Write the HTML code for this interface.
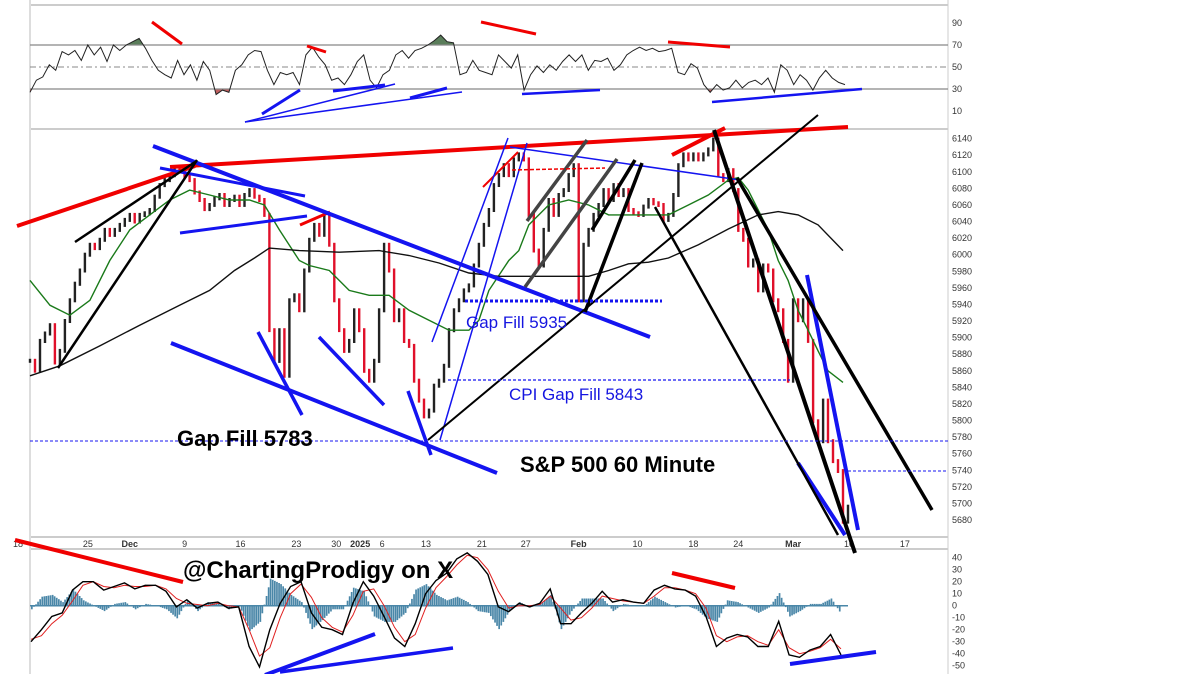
<!DOCTYPE html>
<html><head><meta charset="utf-8">
<style>
html,body{margin:0;padding:0;background:#fff;}
svg{display:block;font-family:"Liberation Sans",Arial,sans-serif;}
</style></head>
<body>
<svg id="chart" width="1200" height="674" viewBox="0 0 1200 674" xmlns="http://www.w3.org/2000/svg">
<g id="frame">
<line x1="30" y1="5" x2="948" y2="5" stroke="#ccc" stroke-width="2"/>
<line x1="30" y1="129" x2="948" y2="129" stroke="#ccc" stroke-width="2"/>
<line x1="30" y1="537" x2="948" y2="537" stroke="#ccc" stroke-width="2"/>
<line x1="30" y1="549" x2="948" y2="549" stroke="#ccc" stroke-width="2"/>
<line x1="30" y1="0" x2="30" y2="674" stroke="#ddd" stroke-width="2"/>
<line x1="948" y1="0" x2="948" y2="674" stroke="#ccc" stroke-width="1"/>
</g>
<g id="rsi"></g>
<g id="price"></g>
<g id="macd"></g>
<g id="axes"></g>
<g id="ann"></g>
<text x="466" y="328" font-size="17" fill="#1515e0">Gap Fill 5935</text>
<text x="509" y="400" font-size="17" fill="#1515e0">CPI Gap Fill 5843</text>
<text x="177" y="446" font-size="22" font-weight="bold" fill="#000">Gap Fill 5783</text>
<text x="520" y="472" font-size="22" font-weight="bold" fill="#000">S&amp;P 500 60 Minute</text>
<text x="183" y="578" font-size="24" font-weight="bold" fill="#000">@ChartingProdigy on X</text>
</svg>
<script>
const closes=[5872,5860,5896,5905,5915,5870,5884,5920,5945,5965,5981,6000,6012,6008,6018,6030,6024,6030,6036,6042,6048,6040,6048,6050,6054,6070,6084,6090,6096,6105,6102,6095,6090,6075,6066,6055,6060,6068,6072,6060,6066,6070,6060,6072,6078,6070,6066,
6048,
5909,5872,5909,5854,5945,5951,5933,5981,6018,6036,6024,6048,6012,5945,5909,5884,5896,5933,5909,5860,5848,5872,5933,6012,5981,5921,5933,5896,5890,5848,5824,5805,5812,5842,5848,5866,5909,5933,5945,5957,5963,5987,6012,6036,6054,6084,6096,6108,6096,6115,6121,6115,6048,6005,5987,6030,6066,6048,6072,6078,6096,6108,5945,6012,6030,6048,6060,6078,6066,6084,6072,6078,
6054,6050,6048,6058,6066,6062,6060,
6042,6048,6072,6108,6121,6115,6121,6115,6121,6127,6139,6096,6090,6102,6078,6030,6018,5987,5993,5957,5987,5981,5945,5933,5896,5848,5945,5921,5945,5896,5799,5775,5824,5775,5751,5739,5678,5696];
const ma50Idx=[0,4,8,12,16,20,24,28,32,36,40,44,47,50,54,56,60,64,68,72,76,80,84,88,90,92,94,96,98,100,104,108,112,116,120,124,128,132,136,140,142,144,146,148,150,152,154,156,158,160,163];
const ma50=[5969,5939,5927,5945,5993,6030,6048,6066,6078,6072,6066,6066,6060,6030,5993,5987,5981,5957,5951,5951,5933,5921,5909,5909,5921,5957,5975,5993,6005,6036,6060,6066,6060,6048,6048,6048,6048,6060,6072,6090,6093,6078,6054,6030,5993,5969,5933,5909,5884,5860,5846];
const ma200Idx=[0,6,14,22,30,36,41,45,48,54,62,70,76,82,88,94,100,106,112,116,120,124,128,134,140,146,150,154,158,163];
const ma200=[5854,5866,5890,5915,5939,5957,5981,5996,6008,6005,6003,6005,5999,5990,5978,5974,5974,5974,5974,5981,5989,5991,5996,6012,6031,6048,6052,6048,6036,6005];
const rsi=[27,38,41,52,47,64,61,65,56,70,61,68,55,70,65,70,73,76,67,56,47,43,40,56,43,52,38,55,47,25,29,27,47,52,61,65,64,47,34,45,43,45,34,61,68,59,52,38,40,34,43,55,61,38,31,43,47,61,65,58,65,67,70,74,79,73,72,43,45,56,47,45,43,61,55,49,61,29,43,51,45,52,47,55,61,55,61,47,56,55,58,47,52,61,65,68,65,67,64,65,67,45,43,53,49,34,27,34,29,31,38,31,36,38,34,40,27,52,47,34,43,38,29,40,47,40,36,34];
const rsiTicks=[90,70,50,30,10];
const macdLine=[-30,-20,-9,-6,13,20,20,13,16,19,14,17,17,12,-1,5,-2,2,3,-2,-1,-34,-51,-20,2,16,20,-6,-18,-20,-24,2,20,8,-9,-27,-34,-15,10,21,27,39,44,37,26,-1,-5,2,-1,2,14,-15,-15,-6,2,12,3,5,3,2,13,17,14,13,8,-9,-34,-27,-24,-26,-34,-34,-13,-41,-43,-37,-34,-24,-41];
const signalLine=[-28,-25,-15,-8,4,17,20,16,15,17,16,16,17,14,6,2,1,0,2,0,-1,-20,-42,-35,-10,10,18,7,-10,-18,-22,-8,12,14,0,-18,-30,-24,-2,15,24,34,42,40,30,12,-2,0,0,1,8,-2,-12,-10,-2,8,6,4,3,2,8,15,15,13,10,-2,-25,-30,-26,-25,-30,-33,-20,-35,-40,-38,-35,-28,-36];
const macdTicks=[40,30,20,10,0,-10,-20,-30,-40,-50];
const priceTicks=[6140,6120,6100,6080,6060,6040,6020,6000,5980,5960,5940,5920,5900,5880,5860,5840,5820,5800,5780,5760,5740,5720,5700,5680];
const dateLabels=["18","25","Dec","9","16","23","30","2025","6","13","21","27","Feb","10","18","24","Mar","10","17"];
const dateBars=[-2.4,11.6,20,31,42.2,53.4,61.4,66.2,70.6,79.4,90.6,99.4,110,121.8,133,142,153,164.2,175.4];

const NS="http://www.w3.org/2000/svg";
function mk(tag,attrs,parent){const e=document.createElementNS(NS,tag);for(const k in attrs)e.setAttribute(k,attrs[k]);parent.appendChild(e);return e;}
const X0=30,X1=848;
const nBars=closes.length;
const xBar=i=>X0+i*(X1-X0)/(nBars-1);
const yP=p=>520-(p-5680)*0.829;
const yR=v=>89-(v-30)*1.1;
const yM=v=>605.7-v*1.2;

const rsiG=document.getElementById('rsi');
const rx=i=>X0+i*(845-X0)/(rsi.length-1);
let d=rsi.map((v,i)=>(i?'L':'M')+rx(i).toFixed(1)+','+yR(v).toFixed(1)).join('');
const defs=mk('defs',{},rsiG);
const c1=mk('clipPath',{id:'above70'},defs);mk('rect',{x:0,y:0,width:1200,height:yR(70)},c1);
const c2=mk('clipPath',{id:'below30'},defs);mk('rect',{x:0,y:yR(30),width:1200,height:60},c2);
let f1=mk('path',{d:d+'L845,'+yR(70)+'L30,'+yR(70)+'Z',fill:'#5a7d5a','clip-path':'url(#above70)'},rsiG);


let f2=mk('path',{d:d+'L845,'+yR(30)+'L30,'+yR(30)+'Z',fill:'#c06060','clip-path':'url(#below30)'},rsiG);


[70,30].forEach(v=>{let l=mk('line',{x1:30,x2:948,y1:yR(v),y2:yR(v),stroke:'#888','stroke-width':1.2},rsiG);

});
let mid=mk('line',{x1:30,x2:948,y1:yR(50),y2:yR(50),stroke:'#888','stroke-width':1,'stroke-dasharray':'6,3,2,3'},rsiG);


let rl=mk('path',{d:d,fill:'none',stroke:'#222','stroke-width':1},rsiG);



const pg=document.getElementById('price');
for(let i=0;i<nBars;i++){
  const o=i?closes[i-1]:closes[0],c=closes[i];
  const up=c>=o;const x=xBar(i);
  const top=yP(Math.max(o,c)),bot=yP(Math.min(o,c));
  const r=mk('rect',{x:(x-1.2).toFixed(1),y:(top-2).toFixed(1),width:2.4,height:(bot-top+4).toFixed(1),fill:up?'#222':'#e0102a'},pg);
  
  
}
function maPath(idx,vals){return idx.map((b,i)=>(i?'L':'M')+xBar(b).toFixed(1)+','+yP(vals[i]).toFixed(1)).join('');}
let g50=mk('path',{d:maPath(ma50Idx,ma50),fill:'none',stroke:'#1a7a1a','stroke-width':1.4},pg);


let g200=mk('path',{d:maPath(ma200Idx,ma200),fill:'none',stroke:'#111','stroke-width':1.4},pg);



const mg=document.getElementById('macd');
const n=Math.min(macdLine.length,signalLine.length);
const mx=i=>31+i*(841-31)/(n-1);
let zl=mk('line',{x1:30,x2:848,y1:yM(0),y2:yM(0),stroke:'#4a87a8','stroke-width':1.5},mg);


for(let i=0;i<n-1;i++){
  const h0=(macdLine[i]-signalLine[i])*1.5,h1=(macdLine[i+1]-signalLine[i+1])*1.5;
  for(let k=0;k<5;k++){
  const h=h0+(h1-h0)*k/5;
  const x=mx(i)+k*(mx(1)-mx(0))/5;
  const r=mk('rect',{x:x.toFixed(1),y:Math.min(yM(0),yM(h)).toFixed(1),width:1.7,height:Math.abs(yM(h)-yM(0)).toFixed(1),fill:'#4a87a8'},mg);
  
  }
}
let sl=mk('path',{d:signalLine.slice(0,n).map((v,i)=>(i?'L':'M')+mx(i).toFixed(1)+','+yM(v).toFixed(1)).join(''),fill:'none',stroke:'#e02020','stroke-width':1},mg);


let ml=mk('path',{d:macdLine.slice(0,n).map((v,i)=>(i?'L':'M')+mx(i).toFixed(1)+','+yM(v).toFixed(1)).join(''),fill:'none',stroke:'#000','stroke-width':1.4},mg);



const ax=document.getElementById('axes');
rsiTicks.forEach(v=>{const t=mk('text',{x:952,y:yR(v)+3,'font-size':9,fill:'#333'},ax);t.textContent=v;

});
priceTicks.forEach(v=>{const t=mk('text',{x:952,y:yP(v)+3,'font-size':9,fill:'#333'},ax);t.textContent=v;

});
macdTicks.forEach(v=>{const t=mk('text',{x:952,y:yM(v)+3,'font-size':9,fill:'#333'},ax);t.textContent=v;

});
dateLabels.forEach((s,i)=>{const bold=/[A-Za-z]|2025/.test(s);
const t=mk('text',{x:xBar(dateBars[i]),y:547,'font-size':9,'text-anchor':'middle',fill:'#333','font-weight':bold?'bold':'normal'},ax);t.textContent=s;

});

const an=document.getElementById('ann');
const R='#f00000',B='#1414f0',K='#000',G='#444';
const lines=[
[152,22,182,44,R,3],[307,46,326,52,R,3],[481,22,536,34,R,3],[668,42,730,47,R,3],
[262,114,300,90,B,3],[245,122,395,84,B,1.5],[245,122,462,92,B,1.5],[333,91,385,85,B,3],[410,98,447,88,B,3],[522,94,600,90,B,2.5],[712,102,862,89,B,2.5],
[17,226,195,166,R,4],[170,167,848,127,R,4],[300,225,330,212,R,3],[483,187,518,152,R,2],[672,155,725,128,R,4],
[153,146,650,337,B,4],[160,168,305,196,B,3],[180,233,307,216,B,3],[171,343,497,473,B,4],[258,332,302,415,B,3.5],[319,337,384,405,B,3.5],[408,391,431,455,B,3.5],
[432,342,508,138,B,1.5],[440,440,527,143,B,1.5],[510,147,740,180,B,1.5],
[807,275,858,530,B,4],[798,463,845,535,B,4],
[75,242,195,162,K,2.5],[58,368,197,160,K,2.5],[428,440,818,115,K,2],[655,207,838,535,K,2.5],[714,130,855,553,K,4],[737,178,932,510,K,3.5],
[592,230,635,160,K,3.5],[585,312,642,163,K,3.5],
[527,221,587,140,G,3.5],[525,287,617,159,G,3.5],
[15,540,183,582,R,4],[672,573,735,588,R,4],[265,675,375,634,B,4],[280,672,453,648,B,3.5],[790,664,876,652,B,4]
];
lines.forEach(l=>{const e=mk('line',{x1:l[0],y1:l[1],x2:l[2],y2:l[3],stroke:l[4],'stroke-width':l[5]},an);

});
const dashed=[[465,301,662,301,B,3,'3,2'],[448,380,790,380,B,1.2,'3,2'],[30,441,948,441,B,1,'3,2'],[848,471,948,471,B,1,'3,2'],[512,170,605,168,R,1.5,'4,2']];
dashed.forEach(l=>{const e=mk('line',{x1:l[0],y1:l[1],x2:l[2],y2:l[3],stroke:l[4],'stroke-width':l[5],'stroke-dasharray':l[6]},an);

});
</script>
</body></html>
